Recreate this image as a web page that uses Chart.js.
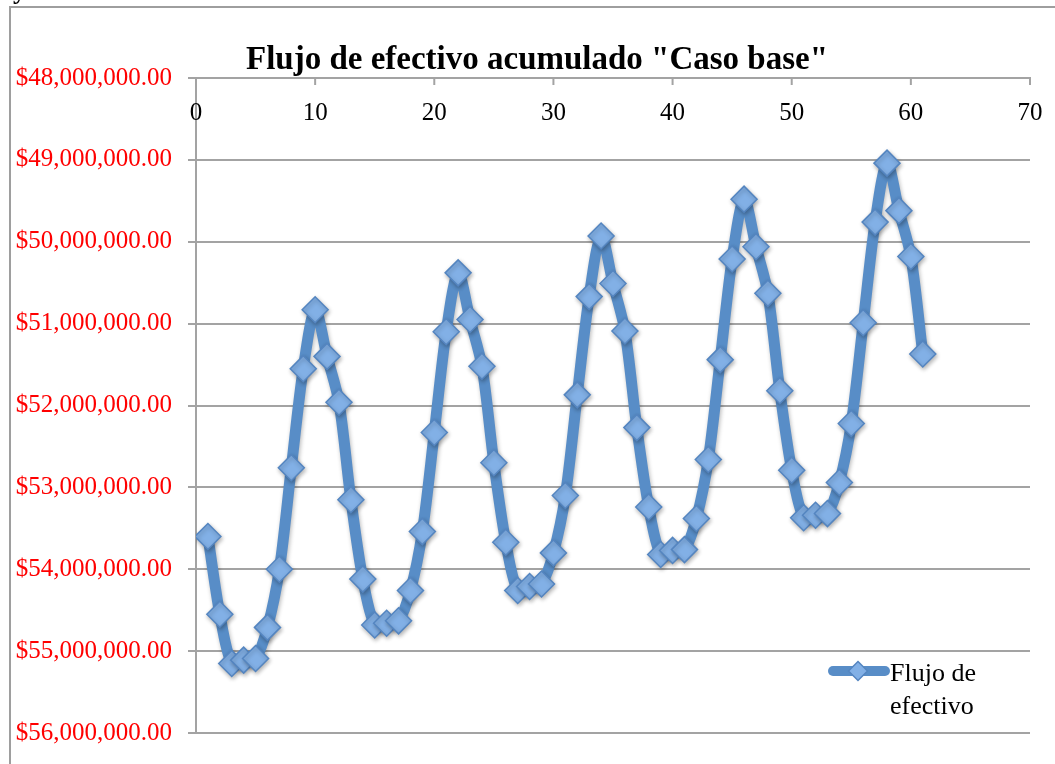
<!DOCTYPE html>
<html>
<head>
<meta charset="utf-8">
<script src="https://cdn.jsdelivr.net/npm/chart.js@4/dist/chart.umd.min.js"></script>
<style>
  html, body { margin: 0; padding: 0; background: #ffffff; }
  #wrap { width: 1055px; height: 764px; position: relative; }
</style>
</head>
<body>
<div id="wrap"><canvas id="c" width="1055" height="764"></canvas></div>
<script>
const chartTitle = 'Flujo de efectivo acumulado "Caso base"';
const seriesLabel = 'Flujo de efectivo';
const periods = [1,2,3,4,5,6,7,8,9,10,11,12,13,14,15,16,17,18,19,20,21,22,23,24,25,26,27,28,29,30,31,32,33,34,35,36,37,38,39,40,41,42,43,44,45,46,47,48,49,50,51,52,53,54,55,56,57,58,59,60,61];
const flujo = [
  53600000, 54550000, 55150000, 55110000, 55090000, 54710000, 54000000, 52760000, 51550000, 50830000,
  51400000, 51960000, 53150000, 54120000, 54680000, 54660000, 54630000, 54260000, 53540000, 52330000,
  51100000, 50380000, 50950000, 51520000, 52700000, 53670000, 54260000, 54210000, 54180000, 53800000,
  53100000, 51870000, 50670000, 49930000, 50510000, 51090000, 52270000, 53240000, 53820000, 53770000,
  53760000, 53380000, 52660000, 51440000, 50210000, 49480000, 50060000, 50630000, 51820000, 52790000,
  53370000, 53340000, 53320000, 52940000, 52220000, 50990000, 49760000, 49040000, 49620000, 50180000,
  51370000
];
const xTicks = [0, 10, 20, 30, 40, 50, 60, 70];
const yTicks = [48000000, 49000000, 50000000, 51000000, 52000000, 53000000, 54000000, 55000000, 56000000];

const points = periods.map((p, i) => ({ x: p, y: flujo[i] }));

const LINE_COLOR = 'rgb(88,141,199)';
const POINT_FILL = 'rgb(130,176,230)';
const POINT_BORDER = 'rgb(84,133,192)';
const GRID = '#a3a3a3';
const SERIF = '"Liberation Serif", "DejaVu Serif", serif';

function money(v) {
  return '$' + Number(v).toLocaleString('en-US', { minimumFractionDigits: 2, maximumFractionDigits: 2 });
}

const framePlugin = {
  id: 'frame',
  beforeDraw(chart) {
    const ctx = chart.ctx;
    ctx.save();
    ctx.fillStyle = '#ffffff';
    ctx.fillRect(0, 0, chart.width, chart.height);
    ctx.strokeStyle = '#9e9e9e';
    ctx.lineWidth = 2;
    ctx.beginPath();
    ctx.moveTo(10, chart.height);
    ctx.lineTo(10, 7);
    ctx.lineTo(chart.width, 7);
    ctx.stroke();
    // clipped descender of text above the frame
    ctx.font = 'bold 26px ' + SERIF;
    ctx.fillStyle = '#000000';
    ctx.textBaseline = 'alphabetic';
    ctx.fillText('y', 13, -1);
    ctx.restore();
  }
};

const shadowPlugin = {
  id: 'shadow',
  beforeDatasetsDraw(chart) {
    const ctx = chart.ctx;
    ctx.save();
    ctx.shadowColor = 'rgba(0,0,0,0.28)';
    ctx.shadowBlur = 4;
    ctx.shadowOffsetX = 1;
    ctx.shadowOffsetY = 2;
  },
  afterDatasetsDraw(chart) {
    chart.ctx.restore();
  }
};

// x-axis tick marks (pointing inward) and labels placed just below the top axis line
const xAxisLabelsPlugin = {
  id: 'xAxisInside',
  afterDraw(chart) {
    const ctx = chart.ctx;
    const xs = chart.scales.x;
    const top = chart.chartArea.top;
    ctx.save();
    ctx.strokeStyle = GRID;
    ctx.lineWidth = 2;
    ctx.font = '25px ' + SERIF;
    ctx.fillStyle = '#000000';
    ctx.textAlign = 'center';
    ctx.textBaseline = 'alphabetic';
    xs.ticks.forEach(t => {
      const px = xs.getPixelForValue(t.value);
      ctx.beginPath();
      ctx.moveTo(px, top);
      ctx.lineTo(px, top + 7);
      ctx.stroke();
      ctx.fillText(String(t.value), px, top + 42);
    });
    ctx.restore();
  }
};

const titlePlugin = {
  id: 'customTitle',
  afterDraw(chart) {
    const ctx = chart.ctx;
    ctx.save();
    ctx.font = 'bold 33px ' + SERIF;
    ctx.fillStyle = '#000000';
    ctx.textAlign = 'center';
    ctx.textBaseline = 'alphabetic';
    ctx.fillText(chartTitle, 537, 69);
    ctx.restore();
  }
};

const legendPlugin = {
  id: 'customLegend',
  afterDraw(chart) {
    const ctx = chart.ctx;
    const ds = chart.data.datasets[0];
    ctx.save();
    ctx.strokeStyle = ds.borderColor;
    ctx.lineWidth = 10;
    ctx.lineCap = 'round';
    ctx.beginPath();
    ctx.moveTo(833, 671);
    ctx.lineTo(885, 671);
    ctx.stroke();
    const cx = 858, cy = 671, r = 9.5;
    ctx.fillStyle = ds.pointBackgroundColor;
    ctx.strokeStyle = ds.pointBorderColor;
    ctx.lineWidth = 1.5;
    ctx.beginPath();
    ctx.moveTo(cx, cy - r);
    ctx.lineTo(cx + r, cy);
    ctx.lineTo(cx, cy + r);
    ctx.lineTo(cx - r, cy);
    ctx.closePath();
    ctx.fill();
    ctx.stroke();
    ctx.font = '26px ' + SERIF;
    ctx.fillStyle = '#000000';
    ctx.textAlign = 'left';
    ctx.textBaseline = 'alphabetic';
    const words = ds.label.split(' ');
    ctx.fillText(words.slice(0, 2).join(' '), 890, 681);
    ctx.fillText(words.slice(2).join(' '), 890, 714);
    ctx.restore();
  }
};

new Chart(document.getElementById('c'), {
  type: 'line',
  data: {
    datasets: [{
      label: seriesLabel,
      data: points,
      borderColor: LINE_COLOR,
      borderWidth: 11,
      tension: 0.3,
      pointStyle: 'rectRot',
      pointRadius: 13,
      pointHoverRadius: 13,
      pointBackgroundColor: POINT_FILL,
      pointBorderColor: POINT_BORDER,
      pointBorderWidth: 1.5,
      fill: false
    }]
  },
  options: {
    responsive: false,
    animation: false,
    devicePixelRatio: 1,
    layout: { padding: { left: 0, right: 25, top: 78, bottom: 30 } },
    plugins: {
      legend: { display: false },
      title: { display: false },
      tooltip: { enabled: false }
    },
    scales: {
      x: {
        type: 'linear',
        position: 'top',
        min: 0,
        max: 70,
        afterBuildTicks(scale) { scale.ticks = xTicks.map(v => ({ value: v })); },
        afterFit(scale) { scale.height = 0; },
        ticks: { display: false },
        grid: {
          display: true,
          drawOnChartArea: false,
          drawTicks: false,
          color: GRID,
          lineWidth: 2
        },
        border: { display: true, color: GRID, width: 2 }
      },
      y: {
        type: 'linear',
        reverse: true,
        min: 48000000,
        max: 56000000,
        afterBuildTicks(scale) { scale.ticks = yTicks.map(v => ({ value: v })); },
        afterFit(scale) { scale.width = 196; },
        ticks: {
          color: '#ff0000',
          font: { family: SERIF, size: 25 },
          padding: 16,
          callback: (v) => money(v),
          autoSkip: false
        },
        grid: {
          display: true,
          drawOnChartArea: true,
          drawTicks: true,
          tickLength: 8,
          color: GRID,
          lineWidth: 2
        },
        border: { display: true, color: GRID, width: 2 }
      }
    }
  },
  plugins: [framePlugin, shadowPlugin, xAxisLabelsPlugin, titlePlugin, legendPlugin]
});
</script>
</body>
</html>
